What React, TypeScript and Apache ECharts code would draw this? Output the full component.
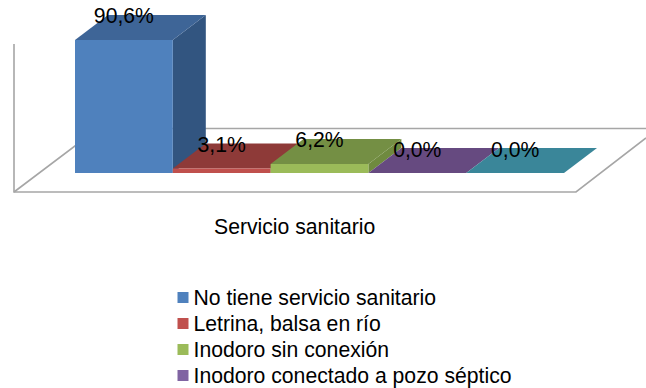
import React, { useEffect, useRef } from "react";
import * as echarts from "echarts";

const categories = [
  "No tiene servicio sanitario",
  "Letrina, balsa en río",
  "Inodoro sin conexión",
  "Inodoro conectado a pozo séptico",
  "",
];
const values = [90.6, 3.1, 6.2, 0.0, 0.0];
const valueLabels = ["90,6%", "3,1%", "6,2%", "0,0%", "0,0%"];
const frontColors = ["#4f81bd", "#c0504d", "#9bbb59", "#8064a2", "#4bacc6"];
const sideColors = ["#325580", "#8c3a38", "#6f8a3f", "#5d4878", "#36859a"];
const topColors = ["#3e6597", "#8e3a38", "#748f44", "#664a80", "#3a8699"];
const axisTitle = "Servicio sanitario";

const FONT = "Liberation Sans";
const FONT_SIZE = 21.2;
const DX = 33;
const DY = -25;

function renderBar(index: number) {
  return (_params: any, api: any) => {
    const base = api.coord([index, 0]);
    const top = api.coord([index, api.value(1)]);
    const w = api.size([1, 0])[0];
    const l = base[0] - w / 2;
    const r = base[0] + w / 2;
    const poly = (points: number[][], fill: string) => ({
      type: "polygon",
      shape: { points },
      style: { fill },
    });
    return {
      type: "group",
      children: [
        poly([[r, base[1]], [r, top[1]], [r + DX, top[1] + DY], [r + DX, base[1] + DY]], sideColors[index]),
        poly([[l, top[1]], [r, top[1]], [r + DX, top[1] + DY], [l + DX, top[1] + DY]], topColors[index]),
        poly([[l, base[1]], [r, base[1]], [r, top[1]], [l, top[1]]], frontColors[index]),
        {
          type: "text",
          x: base[0],
          y: top[1] - 24,
          z2: 100,
          style: {
            text: valueLabels[index],
            font: `${FONT_SIZE}px "${FONT}"`,
            fill: "#000",
            align: "center",
            verticalAlign: "middle",
          },
        },
      ],
    };
  };
}

export default function App() {
  const ref = useRef<HTMLDivElement>(null);
  useEffect(() => {
    const chart = echarts.init(ref.current!, undefined, { renderer: "svg" });
    const wall = { stroke: "#a6a6a6", lineWidth: 1.6, fill: "none" };
    chart.setOption({
      animation: false,
      backgroundColor: "#fff",
      grid: { left: 75, width: 489, top: 26.2, height: 146.8 },
      xAxis: { type: "category", data: categories, show: false },
      yAxis: { type: "value", min: 0, max: 100, show: false },
      title: {
        text: axisTitle,
        left: 214,
        top: 216,
        padding: 0,
        textStyle: { fontFamily: FONT, fontSize: FONT_SIZE, fontWeight: "normal", color: "#000" },
      },
      legend: {
        orient: "vertical",
        left: 177.5,
        top: 287,
        padding: 0,
        itemWidth: 11,
        itemHeight: 11,
        itemGap: 5,
        icon: "rect",
        data: categories.slice(0, 4),
        textStyle: { fontFamily: FONT, fontSize: FONT_SIZE, color: "#000", lineHeight: 20.3 },
      },
      graphic: [
        { type: "polyline", shape: { points: [[14, 44], [14, 192], [576, 192], [646, 138]] }, style: wall },
        { type: "polyline", shape: { points: [[14, 192], [98, 128.5], [646, 128.5]] }, style: wall },
      ],
      series: categories.map((name, i) => ({
        type: "custom",
        name,
        coordinateSystem: "cartesian2d",
        clip: false,
        itemStyle: { color: frontColors[i] },
        data: [[name, values[i]]],
        encode: { x: 0, y: 1 },
        renderItem: renderBar(i),
      })),
    });
    return () => chart.dispose();
  }, []);
  return <div ref={ref} style={{ position: "fixed", left: 0, top: 0, width: 646, height: 388 }} />;
}
